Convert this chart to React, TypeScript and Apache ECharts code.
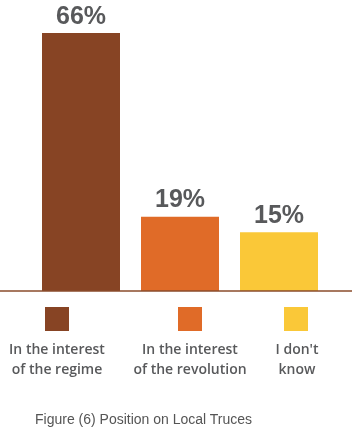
import React, { useEffect, useRef } from "react";
import * as echarts from "echarts";

const categories = ["In the interest\nof the regime", "In the interest\nof the revolution", "I don't\nknow"];
const values = [66, 19, 15];
const colors = ["#874424", "#E06B28", "#FAC838"];
const caption = "Figure (6) Position on Local Truces";

export default function App() {
  const ref = useRef<HTMLDivElement>(null);
  useEffect(() => {
    const chart = echarts.init(ref.current!, null, { renderer: "svg" });
    const legendX = [45, 178, 284];
    const textX = [57, 190, 297];
    const graphic: any[] = [
      {
        type: "line",
        shape: { x1: 0, y1: 291, x2: 352, y2: 291 },
        style: { stroke: "#8A4B2B", lineWidth: 1.5 },
        z: 10,
      },
    ];
    categories.forEach((c, i) => {
      graphic.push({
        type: "rect",
        shape: { x: legendX[i], y: 307, width: 24, height: 24 },
        style: { fill: colors[i] },
      });
      graphic.push({
        type: "text",
        x: textX[i],
        y: 338,
        style: {
          text: c,
          fill: "#58595B",
          font: "600 14px 'Open Sans'",
          align: "center",
          verticalAlign: "top",
          lineHeight: 20,
        },
      });
    });
    chart.setOption({
      animation: false,
      title: {
        text: caption,
        left: 30,
        top: 407,
        textStyle: { fontFamily: "Liberation Sans", fontSize: 14, fontWeight: "normal", color: "#555" },
      },
      grid: { left: 31.5, right: 23.5, top: 33, bottom: 139 },
      xAxis: {
        type: "category",
        data: categories,
        axisLine: { show: false },
        axisTick: { show: false },
        axisLabel: { show: false },
      },
      yAxis: { type: "value", min: 0, max: 66, show: false, splitLine: { show: false } },
      graphic,
      series: [
        {
          type: "bar",
          barWidth: 78,
          data: values.map((v, i) => ({ value: v, itemStyle: { color: colors[i] } })),
          label: {
            show: true,
            position: "top",
            distance: 6,
            formatter: "{c}%",
            fontFamily: "Liberation Sans",
            fontWeight: "bold",
            fontSize: 25,
            lineHeight: 25,
            color: "#58595B",
          },
        },
      ],
    });
    return () => chart.dispose();
  }, []);
  return <div ref={ref} style={{ position: "fixed", left: 0, top: 0, width: 352, height: 430 }} />;
}
